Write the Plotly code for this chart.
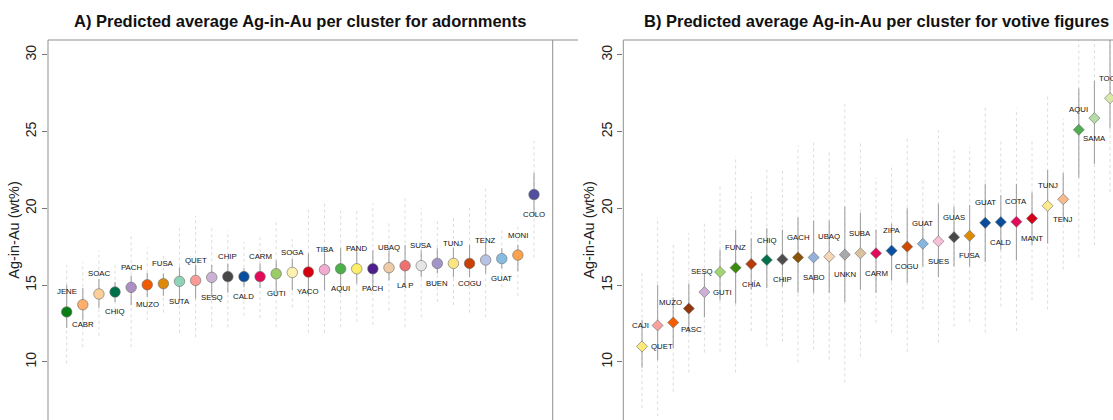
import plotly.graph_objects as go

# ---------------- Panel A: adornments ----------------
namesA = ["JENE", "CABR", "SOAC", "CHIQ", "PACH", "MUZO", "FUSA", "SUTA", "QUET", "SESQ",
          "CHIP", "CALD", "CARM", "GUTI", "SOGA", "YACO", "TIBA", "AQUI", "PAND", "PACH",
          "UBAQ", "LA P", "SUSA", "BUEN", "TUNJ", "COGU", "TENZ", "GUAT", "MONI", "COLO"]
meanA = [13.25, 13.72, 14.42, 14.55, 14.85, 15.02, 15.09, 15.24, 15.30, 15.50,
         15.55, 15.55, 15.55, 15.74, 15.82, 15.85, 16.00, 16.06, 16.06, 16.06,
         16.13, 16.26, 16.26, 16.41, 16.41, 16.41, 16.63, 16.72, 16.95, 20.90]
innerLoA = [12.2, 12.7, 13.5, 13.9, 13.7, 14.2, 14.3, 14.0, 14.1, 14.2,
            14.5, 14.85, 14.8, 14.45, 14.65, 14.3, 14.65, 14.85, 15.1, 14.85,
            15.3, 15.0, 15.5, 15.75, 15.5, 15.5, 15.75, 16.1, 15.9, 19.5]
innerHiA = [15.0, 14.8, 15.4, 15.2, 15.6, 15.8, 15.75, 16.15, 16.3, 16.3,
            16.4, 16.1, 16.4, 16.6, 16.7, 17.05, 17.1, 17.4, 17.6, 17.25,
            17.25, 17.6, 17.25, 17.4, 17.45, 17.6, 17.8, 17.4, 17.6, 22.3]
outerLoA = [9.9, 10.95, 11.7, 13.0, 10.95, 12.7, 13.2, 11.9, 11.6, 12.25,
            12.25, 13.0, 12.85, 12.25, 13.55, 11.9, 11.9, 12.25, 12.6, 12.4,
            13.35, 12.25, 12.9, 13.9, 13.7, 13.2, 12.9, 14.85, 14.3, 16.8]
outerHiA = [16.3, 16.5, 17.25, 16.5, 18.4, 17.45, 17.05, 18.7, 19.5, 18.75,
            18.55, 17.8, 18.1, 19.3, 18.0, 20.0, 20.5, 19.85, 20.0, 20.3,
            19.2, 20.7, 20.05, 19.2, 19.4, 20.05, 21.3, 18.55, 19.0, 24.4]
colorsA = ["#0b7d16", "#fdae6b", "#fdcf98", "#00704a", "#ae8fc3", "#f05a00", "#dc8a08", "#8ed2b8",
           "#f99c97", "#cbb1d6", "#474747", "#0a4c9e", "#e20a58", "#9ccc68", "#fff1b0", "#d40010",
           "#f2abd0", "#4daf4a", "#fdee6a", "#4e1e8a", "#efcaa6", "#f07070", "#e6e6e6", "#a293ca",
           "#fbe580", "#c94000", "#b6c3e4", "#86bbe2", "#fca24a", "#524ea0"]

# ---------------- Panel B: votive figures ----------------
namesB = ["QUET", "CAJI", "PASC", "MUZO", "GUTI", "SESQ", "FUNZ", "CHÍA", "CHIQ", "CHIP",
          "GACH", "SABO", "UBAQ", "UNKN", "SUBA", "CARM", "ZIPA", "COGU", "GUAT", "SUES",
          "GUAS", "FUSA", "GUAT", "CALD", "COTA", "MANT", "TUNJ", "TENJ", "AQUI", "SAMA", "TOCA"]
meanB = [11.00, 12.37, 12.56, 13.47, 14.54, 15.85, 16.13, 16.37, 16.63, 16.67,
         16.80, 16.80, 16.85, 16.98, 17.07, 17.07, 17.24, 17.50, 17.69, 17.85,
         18.12, 18.21, 19.05, 19.10, 19.12, 19.34, 20.16, 20.59, 25.11, 25.87, 27.17]
innerLoB = [9.62, 10.1, 10.9, 11.9, 12.9, 14.0, 13.8, 14.7, 14.8, 14.9,
            14.5, 14.5, 14.5, 13.9, 14.7, 14.5, 15.3, 15.15, 16.2, 15.5,
            16.2, 16.2, 16.5, 17.3, 16.6, 17.6, 17.7, 19.2, 22.0, 22.9, 25.2]
innerHiB = [12.74, 15.0, 14.2, 15.1, 15.8, 17.3, 18.6, 18.05, 18.7, 18.6,
            19.4, 19.2, 19.2, 20.1, 19.7, 18.6, 19.0, 20.0, 19.2, 20.3,
            20.1, 20.2, 21.6, 20.85, 21.6, 21.05, 22.5, 22.3, 27.8, 28.3, 31.5]
outerLoB = [7.0, 6.45, 8.05, 9.3, 10.6, 10.65, 9.3, 12.0, 11.0, 11.3,
            9.95, 10.8, 10.15, 8.65, 10.35, 12.55, 11.9, 10.65, 13.4, 11.25,
            12.3, 12.6, 11.9, 13.6, 12.0, 14.0, 13.4, 16.0, 16.8, 17.6, 21.05]
outerHiB = [15.8, 19.4, 17.7, 18.4, 19.0, 21.5, 23.4, 21.05, 22.5, 22.6,
            24.1, 24.4, 23.8, 26.8, 24.4, 22.0, 22.7, 24.6, 22.0, 25.1,
            23.8, 24.0, 26.6, 24.4, 26.5, 24.4, 27.3, 25.85, 32.0, 32.0, 33.0]
colorsB = ["#fde87a", "#f6a19c", "#f35d00", "#93360a", "#cdb0d8", "#a3d472", "#3a8a0e", "#b93c06",
           "#00704a", "#4e4e4e", "#8b5307", "#92b2dc", "#f6d6b6", "#a9a9a9", "#dac29e", "#e20a5c",
           "#0a50a0", "#cc4a02", "#84b6de", "#f8c0d8", "#484848", "#df8a00", "#084c9c", "#084c9c",
           "#e20a5c", "#d5001a", "#fde98a", "#f9bb8e", "#52ac52", "#b6dca6", "#d9e9a6"]

yTicks = [5, 10, 15, 20, 25, 30]
titleA = "A) Predicted average Ag-in-Au per cluster for adornments"
titleB = "B) Predicted average Ag-in-Au per cluster for votive figures"
yTitle = "Ag-in-Au (wt%)"

FONT = "Liberation Sans, Arial, Helvetica, sans-serif"
W, H = 1113, 420
ML, MT = 48, 40

fig = go.Figure()


def seg(xs, lo, hi):
    X, Y = [], []
    for x, a, b in zip(xs, lo, hi):
        X += [x, x, None]
        Y += [a, b, None]
    return X, Y


def add_panel(xa, ya, names, means, ilo, ihi, olo, ohi, colors, symbol, size):
    xs = list(range(1, len(names) + 1))
    X, Y = seg(xs, olo, ohi)
    fig.add_trace(go.Scatter(x=X, y=Y, mode="lines", xaxis=xa, yaxis=ya,
                             line=dict(color="#dcdcdc", width=1, dash="dot"),
                             hoverinfo="skip", showlegend=False))
    X, Y = seg(xs, ilo, ihi)
    fig.add_trace(go.Scatter(x=X, y=Y, mode="lines", xaxis=xa, yaxis=ya,
                             line=dict(color="#a3a3a3", width=1.1),
                             hoverinfo="skip", showlegend=False))
    fig.add_trace(go.Scatter(x=xs, y=means, mode="markers", xaxis=xa, yaxis=ya,
                             marker=dict(symbol=symbol, size=size, color=colors,
                                         line=dict(color="#6a6a6a", width=0.6)),
                             text=names, hovertemplate="%{text}: %{y:.2f}<extra></extra>",
                             showlegend=False, cliponaxis=False))
    return xs


lab_font = dict(family=FONT, size=7.8, color="#111111")

xsA = add_panel("x", "y", namesA, meanA, innerLoA, innerHiA, outerLoA, outerHiA,
                colorsA, "circle", 10.5)
for i, (x, y, t) in enumerate(zip(xsA, meanA, namesA)):
    fig.add_annotation(x=x, y=y, xref="x", yref="y", text=t, showarrow=False,
                       font=lab_font, xanchor="center", yanchor="middle",
                       yshift=20 if i % 2 == 0 else -20)

xsB = add_panel("x2", "y2", namesB, meanB, innerLoB, innerHiB, outerLoB, outerHiB,
                colorsB, "diamond", 8.5)
# label placement for votive panel (style only)
special = {0: ("left", 7, 0), 1: ("right", -7, 0), 2: ("left", 6, -7),
           3: ("right", -5, 6), 4: ("left", 7, 0), 5: ("right", -5, 0)}
for i, (x, y, t) in enumerate(zip(xsB, meanB, namesB)):
    if i in special:
        anc, dx, dy = special[i]
    else:
        anc, dx, dy = "center", 0, (20 if i % 2 == 0 else -20)
    fig.add_annotation(x=x, y=y, xref="x2", yref="y2", text=t, showarrow=False,
                       font=lab_font, xanchor=anc, yanchor="middle",
                       xshift=dx, yshift=dy)

# geometry
plot_w = W - ML
pxA0, pxA1 = 48.0, 552.7
pxB0 = 623.3
domA = [(pxA0 - ML) / plot_w, (pxA1 - ML) / plot_w]
domB = [(pxB0 - ML) / plot_w, 1.0]
rangeA = [1 - 0.04 * 29, 30 + 0.04 * 29]
unitB = 15.6
rangeB = [1 - 0.04 * 30, 1 - 0.04 * 30 + (W - pxB0) / unitB]
yrange = [6.21, 30.96]

axis_common = dict(showgrid=False, zeroline=False, showticklabels=False, ticks="",
                   showline=False, fixedrange=True)
yaxis_common = dict(range=yrange, tickvals=yTicks, ticks="outside", ticklen=5,
                    tickcolor="#777777", tickwidth=1, tickangle=-90,
                    tickfont=dict(family=FONT, size=14, color="#222222"),
                    showgrid=False, zeroline=False, showline=False,
                    title=dict(text=yTitle, font=dict(family=FONT, size=14.5, color="#222222"),
                               standoff=0))

fig.update_layout(
    width=W, height=H,
    margin=dict(l=ML, r=0, t=MT, b=0),
    paper_bgcolor="white", plot_bgcolor="white",
    xaxis=dict(domain=domA, range=rangeA, anchor="y", **axis_common),
    yaxis=dict(anchor="x", **yaxis_common),
    xaxis2=dict(domain=domB, range=rangeB, anchor="y2", **axis_common),
    yaxis2=dict(anchor="x2", **yaxis_common),
    font=dict(family=FONT),
)

# plot frames (R style box, partially visible)
box = dict(color="#8f8f8f", width=1)
for xr, yr, sides in [("x domain", "y domain", ["l", "t", "r"]),
                      ("x2 domain", "y2 domain", ["l", "t"])]:
    if "l" in sides:
        fig.add_shape(type="line", xref=xr, yref=yr, x0=0, x1=0, y0=0, y1=1, line=box)
    if "t" in sides:
        fig.add_shape(type="line", xref=xr, yref=yr, x0=0, x1=1.05, y0=1, y1=1, line=box)
    if "r" in sides:
        fig.add_shape(type="line", xref=xr, yref=yr, x0=1, x1=1, y0=0, y1=1, line=box)

# titles
title_y = 1 + (MT - 21) / (H - MT)
fig.add_annotation(xref="paper", yref="paper", x=((pxA0 + pxA1) / 2 - ML) / plot_w, y=title_y,
                   text="<b>" + titleA + "</b>", showarrow=False, xanchor="center",
                   yanchor="middle", font=dict(family=FONT, size=16.5, color="#111111"))
fig.add_annotation(xref="paper", yref="paper", x=(876 - ML) / plot_w, y=title_y,
                   text="<b>" + titleB + "</b>", showarrow=False, xanchor="center",
                   yanchor="middle", font=dict(family=FONT, size=16.5, color="#111111"))

fig.write_html("out.html")
